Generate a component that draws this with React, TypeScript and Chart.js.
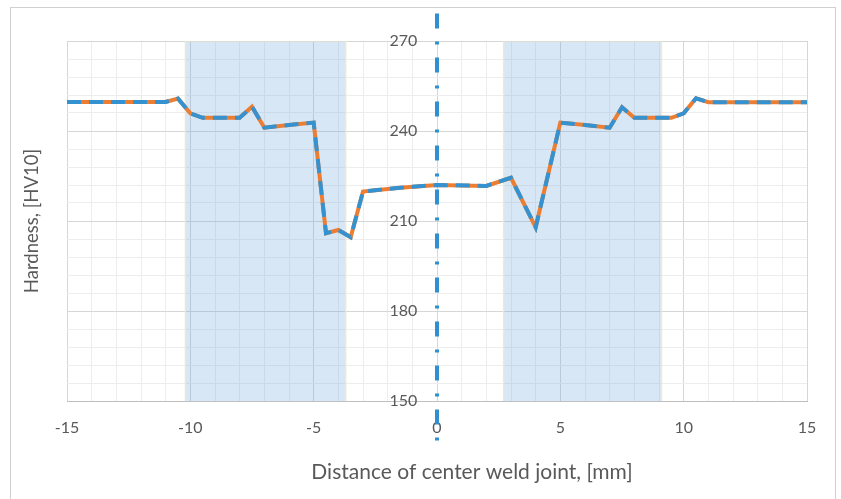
import React, { useEffect, useRef } from "react";
import { Chart, registerables } from "chart.js";

Chart.register(...registerables);

// Hardness profile (distance from weld centre [mm] vs hardness [HV10])
const distances = [-15, -11, -10.5, -10, -9.5, -8, -7.5, -7, -6, -5, -4.5, -4, -3.5, -3, -1.5, 0, 2, 3, 4, 5, 6, 7, 7.5, 8, 9.5, 10, 10.5, 11, 15];
const hardness = [249.7, 249.7, 250.8, 245.9, 244.4, 244.4, 248.1, 241.1, 242, 242.8, 205.9, 207, 204.6, 219.8, 221.1, 222, 221.7, 224.4, 207.9, 242.8, 242, 241.1, 247.9, 244.4, 244.4, 245.9, 250.9, 249.6, 249.6];

// Shaded HAZ zones [start, end] in mm
const zoneLeft = [-10.2, -3.7];
const zoneRight = [2.7, 9.1];

// Centre line extent (hardness values)
const centreLine = [279.2, 136.7];

const xTicks = [-15, -10, -5, 0, 5, 10, 15];
const yTicks = [150, 180, 210, 240, 270];

const xTitle = "Distance of center weld joint, [mm]";
const yTitle = "Hardness, [HV10]";

const X_MIN = -15, X_MAX = 15, Y_MIN = 150, Y_MAX = 270;
const TXT = "#595959";
const FONT = "Lato";

// x-axis title is offset to the right of the plot centre (at this x value)
const X_TITLE_AT = 1.42;

const xTitlePlugin = {
  id: "xTitleOffset",
  afterDraw(chart: any) {
    const xs = chart.scales.x;
    const ctx = chart.ctx;
    ctx.save();
    ctx.fillStyle = TXT;
    ctx.font = `21px ${FONT}`;
    ctx.textAlign = "center";
    ctx.textBaseline = "middle";
    ctx.fillText(xTitle, xs.getPixelForValue(X_TITLE_AT), xs.bottom - 27);
    ctx.restore();
  },
};

export default function App() {
  const ref = useRef<HTMLCanvasElement | null>(null);

  useEffect(() => {
    if (!ref.current) return;
    const pts = distances.map((d, i) => ({ x: d, y: hardness[i] }));
    const zone = (z: number[]) => [
      { x: z[0], y: Y_MIN },
      { x: z[0], y: Y_MAX },
      { x: z[1], y: Y_MAX },
      { x: z[1], y: Y_MIN },
    ];
    const chart = new Chart(ref.current, {
      type: "line",
      data: {
        datasets: [
          {
            data: [{ x: 0, y: centreLine[0] }, { x: 0, y: centreLine[1] }],
            borderColor: "#2f8fd0",
            borderWidth: 4,
            borderDash: [15, 13, 3, 13],
            pointRadius: 0,
            clip: false as any,
            yAxisID: "y",
          },
          {
            data: pts,
            borderColor: "#3592d0",
            borderWidth: 4,
            borderDash: [14, 8],
            pointRadius: 0,
            tension: 0,
            yAxisID: "y",
          },
          {
            data: pts,
            borderColor: "#ed7d31",
            borderWidth: 4,
            pointRadius: 0,
            tension: 0,
            yAxisID: "y",
          },
          {
            data: zone(zoneLeft),
            borderColor: "rgba(240,232,205,0.9)",
            borderWidth: 1.5,
            backgroundColor: "rgba(110,168,220,0.27)",
            fill: "start",
            pointRadius: 0,
            yAxisID: "y",
          },
          {
            data: zone(zoneRight),
            borderColor: "rgba(240,232,205,0.9)",
            borderWidth: 1.5,
            backgroundColor: "rgba(110,168,220,0.27)",
            fill: "start",
            pointRadius: 0,
            yAxisID: "y",
          },
        ],
      },
      options: {
        animation: false,
        responsive: false,
        events: [],
        layout: { padding: { top: 41, right: 34, left: 0, bottom: 0 } },
        plugins: { legend: { display: false }, tooltip: { enabled: false } },
        scales: {
          x: {
            type: "linear",
            min: X_MIN,
            max: X_MAX,
            afterFit: (s: any) => { s.height = 98; },
            afterBuildTicks: (s: any) => {
              const t = [];
              for (let v = X_MIN; v <= X_MAX; v++) t.push({ value: v });
              s.ticks = t;
            },
            ticks: {
              autoSkip: false,
              maxRotation: 0,
              padding: 17,
              color: TXT,
              font: { family: FONT, size: 16 },
              callback: (v: any) => (xTicks.includes(Number(v)) ? String(v) : ""),
            },
            grid: {
              drawTicks: false,
              color: (c: any) => (c.tick && c.tick.value % 5 === 0 ? "#d6d6d6" : "#ededed"),
              lineWidth: 1,
            },
            border: { display: true, color: "#bfbfbf" },
            title: { display: false },
          },
          y: {
            type: "linear",
            position: "left",
            min: Y_MIN,
            max: Y_MAX,
            afterFit: (s: any) => { s.width = 67; },
            ticks: { display: false, stepSize: 6 },
            grid: {
              drawTicks: false,
              color: (c: any) => (c.tick && c.tick.value % 30 === 0 ? "#d6d6d6" : "#ededed"),
            },
            border: { display: false },
            title: {
              display: true,
              text: yTitle,
              color: TXT,
              font: { family: FONT, size: 18.5 },
              padding: { top: 21, bottom: 21 },
            },
          },
          y2: {
            type: "linear",
            position: { x: -0.8 } as any,
            min: Y_MIN,
            max: Y_MAX,
            afterBuildTicks: (s: any) => { s.ticks = yTicks.map((v) => ({ value: v })); },
            ticks: { color: TXT, font: { family: FONT, size: 16 }, padding: 0 },
            grid: { display: false, drawOnChartArea: false },
            border: { display: false },
          },
        },
      } as any,
      plugins: [xTitlePlugin],
    });
    return () => chart.destroy();
  }, []);

  return (
    <div style={{ position: "absolute", left: 0, top: 0, width: 841, height: 499, background: "#fff" }}>
      <div
        style={{
          position: "absolute",
          left: 10,
          top: 7,
          width: 826,
          height: 500,
          border: "1px solid #d0d0d0",
          boxSizing: "border-box",
        }}
      />
      <canvas ref={ref} width={841} height={499} style={{ position: "absolute", left: 0, top: 0 }} />
    </div>
  );
}
